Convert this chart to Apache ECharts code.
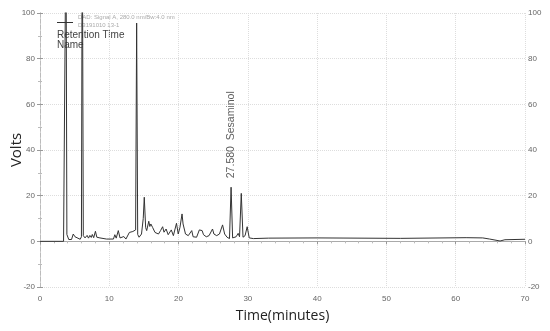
<!DOCTYPE html>
<html>
<head>
<meta charset="utf-8">
<style>html,body{margin:0;padding:0;background:#fff}#c{width:550px;height:331px}</style>
<script src="https://cdn.jsdelivr.net/npm/echarts@6/dist/echarts.min.js"></script>
</head>
<body>
<div id="c"></div>
<script>
// Chromatogram trace (time in minutes, signal in volts)
var times = [0,3.4,3.6,3.75,3.88,4.0,4.15,4.4,4.55,4.8,5.05,5.3,5.8,5.98,6.1,6.25,6.5,6.8,7.0,7.2,7.4,7.55,7.75,8.0,8.2,8.65,9.6,10.6,10.8,11.0,11.3,11.55,12.1,12.4,12.9,13.15,13.4,13.6,13.8,13.95,14.1,14.3,14.65,14.9,15.05,15.25,15.4,15.7,15.85,16.0,16.25,16.6,17.1,17.4,17.7,17.9,18.2,18.5,18.95,19.25,19.7,19.95,20.2,20.5,20.65,20.8,21.0,21.4,21.9,22.1,22.6,23.0,23.2,23.4,23.6,24.0,24.4,24.9,25.1,25.5,25.9,26.35,26.65,27.0,27.35,27.58,27.8,28.3,28.6,28.8,29.05,29.3,29.6,29.9,30.2,30.8,33,40,52,61.5,63.9,64.9,66.4,67.1,70];
var volts = [0,0,0.5,140,3,2.5,0.8,1.5,0.8,3.2,2,1.8,0.9,2,150,2.5,1.5,2.6,1.4,2.6,1.7,3,1.6,4.4,1.8,1.5,1.0,1.0,2.9,1.4,4.7,1.5,2.1,1.0,3.9,3.2,4.3,3.5,5,95.6,3,1.8,3.2,10,19.3,6,4.7,8.8,6.5,7.6,6.1,3.9,3.2,4.7,6.4,4,5.4,2.9,5.0,2.5,7.9,3.2,6.1,12.0,7.6,8.3,3.2,2.5,4.7,2,1.8,5.0,5.4,4.7,2.9,2.0,2.5,5.4,3.2,2.5,3.2,7.2,3.2,1.8,1.2,23.7,1.5,2.0,3.5,2.0,21,1.8,2.5,6.4,1.5,1.2,1.4,1.5,1.3,1.6,1.5,1.0,0.15,0.7,0.9];
// Annotated peak
var peakTime = [27.58];
var peakVolts = [23.7];
var peakLabel = ['27.580  Sesaminol'];
// Axis ticks
var xTicks = [0,10,20,30,40,50,60,70];
var yTicks = [-20,0,20,40,60,80,100];

var traceData = times.map(function(t,i){return [t, volts[i]];});
var peakData = peakTime.map(function(t,i){return {value:[t, peakVolts[i]], name: peakLabel[i]};});

var chart = echarts.init(document.getElementById('c'));
var tickFont = {fontFamily:'Liberation Sans', fontSize:8, color:'#666'};
chart.setOption({
  animation:false,
  grid:{left:40,right:25,top:13,bottom:44,containLabel:false,outerBoundsMode:'none'},
  xAxis:[{
    type:'value', min:xTicks[0], max:xTicks[xTicks.length-1], interval:10,
    name:'Time(minutes)', nameLocation:'middle', nameGap:22, nameMoveOverlap:false,
    nameTextStyle:{fontFamily:'Open Sans', fontSize:14, color:'#222'},
    axisLine:{lineStyle:{color:'#999', width:1}},
    axisTick:{show:true, length:3, lineStyle:{color:'#999'}},
    minorTick:{show:true, splitNumber:5, length:2, lineStyle:{color:'#bbb'}},
    axisLabel:Object.assign({margin:8}, tickFont),
    splitLine:{show:true, lineStyle:{color:'#ddd', type:'dotted'}}
  },{
    type:'value', position:'top', min:0, max:70, interval:10,
    axisLine:{show:true, lineStyle:{color:'#aaa'}},
    axisTick:{show:false}, axisLabel:{show:false}, splitLine:{show:false}
  }],
  yAxis:[{
    type:'value', min:yTicks[0], max:yTicks[yTicks.length-1], interval:20,
    name:'Volts', nameLocation:'middle', nameGap:16, nameMoveOverlap:false,
    nameTextStyle:{fontFamily:'Open Sans', fontSize:15, color:'#222'},
    axisLine:{show:true, lineStyle:{color:'#bbb', type:'dashed'}},
    axisTick:{show:true, length:3, lineStyle:{color:'#999'}},
    minorTick:{show:true, splitNumber:2, length:2, lineStyle:{color:'#bbb'}},
    axisLabel:Object.assign({margin:5}, tickFont),
    splitLine:{show:true, lineStyle:{color:'#ddd', type:'dotted'}}
  },{
    type:'value', position:'right', min:-20, max:100, interval:20,
    axisLine:{show:true, lineStyle:{color:'#bbb', type:'dashed'}},
    axisTick:{show:true, length:3, lineStyle:{color:'#999'}},
    minorTick:{show:true, splitNumber:2, length:2, lineStyle:{color:'#bbb'}},
    axisLabel:Object.assign({margin:3}, tickFont),
    splitLine:{show:false}
  }],
  series:[{
    type:'line', data:traceData, showSymbol:false, symbol:'none', clip:true,
    lineStyle:{color:'#333', width:1}, z:3
  },{
    type:'scatter', data:peakData, symbolSize:0,
    label:{show:true, position:'top', distance:9, rotate:90, align:'left', verticalAlign:'middle',
      formatter:function(p){return p.name;},
      fontFamily:'Liberation Sans', fontSize:10.5, color:'#333'}
  }],
  graphic:[
    {type:'line', shape:{x1:57,y1:22.5,x2:73,y2:22.5}, style:{stroke:'#333', lineWidth:1}},
    {type:'text', left:78, top:14, style:{text:'DAD: Signal A, 280.0 nm/Bw:4.0 nm', font:'6px Liberation Sans', fill:'#aaa'}},
    {type:'text', left:78, top:22, style:{text:'D3191010 13-1', font:'6px Liberation Sans', fill:'#aaa'}},
    {type:'text', left:57, top:30, style:{text:'Retention Time', font:'10px Liberation Sans', fill:'#444'}},
    {type:'text', left:57, top:40, style:{text:'Name', font:'10px Liberation Sans', fill:'#444'}}
  ]
});
</script>
</body>
</html>
